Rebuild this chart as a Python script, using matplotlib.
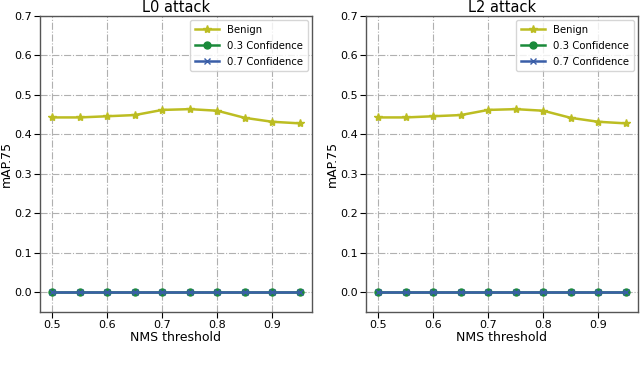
import matplotlib
matplotlib.use("Agg")
import matplotlib.pyplot as plt

nms = [0.5, 0.55, 0.6, 0.65, 0.7, 0.75, 0.8, 0.85, 0.9, 0.95]
benign_l0 = [0.443, 0.443, 0.446, 0.449, 0.462, 0.464, 0.460, 0.442, 0.432, 0.428]
conf03_l0 = [0.0] * 10
conf07_l0 = [0.0] * 10
benign_l2 = [0.443, 0.443, 0.446, 0.449, 0.462, 0.464, 0.460, 0.442, 0.432, 0.428]
conf03_l2 = [0.0] * 10
conf07_l2 = [0.0] * 10
titles = ["L0 attack", "L2 attack"]

fig = plt.figure(figsize=(6.4, 3.74), dpi=100)
ax1 = fig.add_axes([40/640, 1-312/374, 272/640, 296/374])
ax2 = fig.add_axes([366/640, 1-312/374, 272/640, 296/374])

data = [(benign_l0, conf03_l0, conf07_l0), (benign_l2, conf03_l2, conf07_l2)]
for ax, title, (b, c3, c7) in zip([ax1, ax2], titles, data):
    ax.plot(nms, b, color='#bcbd22', marker='*', markersize=6, lw=1.8, label='Benign')
    ax.plot(nms, c3, color='#1a8a3a', marker='o', markersize=5, lw=1.8, label='0.3 Confidence')
    ax.plot(nms, c7, color='#3a5ea8', marker='x', markersize=5, lw=1.8, label='0.7 Confidence')
    ax.set_ylim(-0.05, 0.7)
    ax.set_xticks([0.5, 0.6, 0.7, 0.8, 0.9])
    ax.set_yticks([0.0, 0.1, 0.2, 0.3, 0.4, 0.5, 0.6, 0.7])
    ax.grid(True, linestyle='-.', color='#b0b0b0', lw=0.8)
    ax.set_title(title, fontsize=10.5, pad=3)
    ax.set_xlabel('NMS threshold', fontsize=9, labelpad=1)
    ax.set_ylabel('mAP.75', fontsize=9, labelpad=1.5)
    ax.tick_params(labelsize=8, pad=1.5, length=4)
    for s in ax.spines.values():
        s.set_color('#555555')
        s.set_linewidth(1.0)
    ax.legend(loc='upper right', fontsize=7.3, handlelength=2.4, borderpad=0.45,
              labelspacing=0.6, borderaxespad=0.4)

fig.savefig('out.png', dpi=100)
